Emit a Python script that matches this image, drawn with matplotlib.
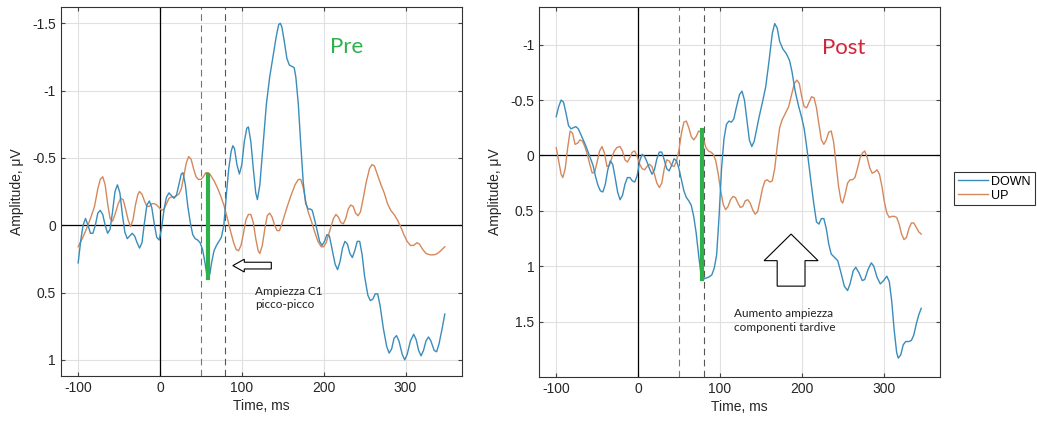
import numpy as np
import matplotlib
matplotlib.use("Agg")
import matplotlib.pyplot as plt
from matplotlib.patches import FancyArrow

plt.rcParams["font.family"] = ["Liberation Sans", "DejaVu Sans"]

# Pre: DOWN / UP waveforms (time ms, amplitude uV)
pre_down_t = [-100, -97, -94, -91, -88, -85, -82, -79, -76, -73, -70, -67, -64, -61, -58,
              -55, -52, -49, -46, -43, -40, -37, -34, -31, -28, -25, -22, -19, -16, -13,
              -10, -7, -4, -1, 2, 5, 8, 11, 14, 17, 20, 23, 26, 28, 31, 34, 37, 40, 43,
              46, 49, 52, 55, 57, 59, 61, 63, 66, 69, 72, 75, 78, 81, 84, 87, 89, 91, 94,
              97, 100, 103, 106, 108, 111, 114, 117, 119, 122, 126, 130, 134, 138, 142,
              145, 147, 149, 152, 155, 158, 161, 164, 166, 169, 172, 175, 178, 181, 184,
              186, 189, 192, 195, 198, 201, 204, 207, 210, 214, 217, 220, 223, 226, 229,
              232, 235, 238, 241, 244, 247, 250, 254, 257, 260, 263, 266, 269, 273, 277,
              280, 283, 286, 289, 292, 296, 299, 302, 306, 310, 313, 316, 319, 322, 325,
              328, 331, 335, 338, 341, 345, 348]
pre_down_v = [0.28, 0.12, 0.00, -0.05, 0.00, 0.06, 0.06, 0.00, -0.09, -0.11, -0.08, 0.00,
              0.06, 0.03, -0.10, -0.25, -0.30, -0.24, -0.08, 0.05, 0.10, 0.08, 0.06, 0.08,
              0.13, 0.17, 0.13, -0.02, -0.15, -0.18, -0.13, -0.01, 0.09, 0.11, 0.02, -0.12,
              -0.21, -0.24, -0.22, -0.20, -0.22, -0.30, -0.38, -0.39, -0.30, -0.14, -0.02,
              0.07, 0.10, 0.11, 0.13, 0.18, 0.28, 0.36, 0.39, 0.36, 0.28, 0.19, 0.15, 0.12,
              0.09, 0.00, -0.22, -0.42, -0.55, -0.59, -0.57, -0.45, -0.38, -0.45, -0.62,
              -0.72, -0.73, -0.62, -0.42, -0.24, -0.19, -0.30, -0.60, -0.90, -1.10, -1.25,
              -1.40, -1.49, -1.50, -1.47, -1.36, -1.24, -1.19, -1.18, -1.17, -1.10, -0.90,
              -0.60, -0.32, -0.16, -0.12, -0.12, -0.11, -0.04, 0.04, 0.12, 0.15, 0.12, 0.07,
              0.08, 0.17, 0.29, 0.33, 0.27, 0.17, 0.12, 0.14, 0.21, 0.24, 0.19, 0.12, 0.12,
              0.22, 0.38, 0.52, 0.56, 0.55, 0.51, 0.51, 0.60, 0.77, 0.90, 0.95, 0.92, 0.84,
              0.82, 0.86, 0.96, 1.00, 0.96, 0.86, 0.81, 0.85, 0.93, 0.97, 0.93, 0.86, 0.83,
              0.86, 0.93, 0.94, 0.88, 0.76, 0.66]

pre_up_t = [-100, -95, -90, -85, -80, -76, -73, -70, -67, -64, -61, -58, -55, -51, -48,
            -45, -42, -39, -36, -33, -30, -27, -25, -22, -19, -16, -13, -10, -7, -4, -1,
            2, 5, 8, 11, 14, 17, 20, 23, 26, 29, 32, 35, 38, 41, 44, 47, 50, 53, 56, 59,
            62, 66, 70, 74, 78, 82, 86, 90, 93, 96, 99, 102, 105, 108, 111, 114, 117,
            120, 122, 125, 128, 131, 134, 137, 140, 143, 146, 150, 155, 160, 165, 169,
            172, 175, 178, 181, 185, 189, 193, 197, 200, 203, 206, 209, 212, 215, 218,
            221, 224, 227, 230, 233, 236, 239, 242, 245, 248, 252, 256, 259, 262, 266,
            270, 274, 278, 282, 286, 290, 294, 298, 302, 306, 310, 314, 317, 321, 325,
            330, 335, 339, 343, 348]
pre_up_v = [0.16, 0.10, 0.03, -0.05, -0.14, -0.27, -0.34, -0.36, -0.30, -0.16, -0.05,
            -0.03, -0.08, -0.16, -0.20, -0.19, -0.12, -0.04, 0.01, -0.04, -0.15, -0.23,
            -0.25, -0.23, -0.18, -0.14, -0.14, -0.16, -0.16, -0.15, -0.13, -0.11, -0.12,
            -0.16, -0.20, -0.21, -0.21, -0.22, -0.23, -0.27, -0.36, -0.46, -0.51, -0.49,
            -0.42, -0.36, -0.34, -0.34, -0.36, -0.39, -0.39, -0.37, -0.33, -0.28, -0.22,
            -0.15, -0.06, 0.04, 0.13, 0.18, 0.19, 0.15, 0.06, -0.04, -0.08, -0.08, -0.02,
            0.10, 0.19, 0.21, 0.15, 0.03, -0.07, -0.09, -0.06, 0.00, 0.04, 0.04, -0.03,
            -0.13, -0.22, -0.30, -0.34, -0.34, -0.28, -0.18, -0.10, -0.03, 0.05, 0.12,
            0.16, 0.16, 0.13, 0.07, 0.01, -0.05, -0.08, -0.06, -0.02, -0.01, -0.05, -0.12,
            -0.15, -0.14, -0.09, -0.07, -0.10, -0.19, -0.32, -0.42, -0.45, -0.44, -0.37,
            -0.30, -0.24, -0.16, -0.11, -0.08, -0.04, 0.01, 0.07, 0.12, 0.15, 0.15, 0.13,
            0.14, 0.18, 0.21, 0.22, 0.22, 0.21, 0.19, 0.16]

# Post: DOWN / UP waveforms
post_down_t = [-100, -97, -94, -91, -88, -85, -82, -79, -76, -73, -70, -67, -64, -61,
               -58, -55, -52, -49, -46, -43, -40, -37, -34, -31, -28, -25, -22, -19,
               -16, -13, -10, -7, -4, -1, 2, 5, 8, 11, 14, 17, 20, 23, 26, 29, 32, 35,
               38, 41, 44, 47, 50, 53, 56, 59, 62, 65, 68, 71, 74, 77, 79, 82, 86, 90,
               93, 96, 99, 102, 105, 108, 111, 114, 117, 120, 124, 127, 130, 133, 136,
               139, 142, 145, 148, 152, 156, 160, 164, 167, 170, 173, 177, 181, 185,
               188, 192, 196, 200, 203, 206, 209, 212, 215, 218, 221, 224, 227, 230,
               233, 236, 240, 244, 248, 252, 256, 259, 263, 266, 270, 274, 277, 281,
               285, 288, 292, 296, 300, 304, 307, 310, 313, 316, 318, 321, 324, 327,
               331, 334, 337, 340, 343, 346]
post_down_v = [-0.35, -0.44, -0.50, -0.48, -0.38, -0.27, -0.24, -0.25, -0.26, -0.24,
               -0.19, -0.14, -0.09, -0.03, 0.03, 0.09, 0.19, 0.27, 0.32, 0.33, 0.26, 0.13,
               0.05, 0.08, 0.20, 0.33, 0.40, 0.36, 0.26, 0.20, 0.20, 0.23, 0.24, 0.18,
               0.05, -0.01, 0.01, 0.06, 0.12, 0.17, 0.13, 0.03, -0.03, -0.03, 0.04, 0.12,
               0.14, 0.09, 0.03, 0.05, 0.12, 0.22, 0.32, 0.38, 0.41, 0.45, 0.55, 0.70,
               0.90, 1.08, 1.12, 1.11, 1.10, 1.08, 1.02, 0.90, 0.55, 0.12, -0.15, -0.28,
               -0.31, -0.30, -0.33, -0.43, -0.55, -0.58, -0.50, -0.32, -0.14, -0.08, -0.13,
               -0.24, -0.35, -0.48, -0.62, -0.85, -1.10, -1.19, -1.15, -1.03, -0.96, -0.92,
               -0.86, -0.76, -0.58, -0.45, -0.34, -0.24, -0.08, 0.10, 0.28, 0.45, 0.60,
               0.62, 0.57, 0.57, 0.66, 0.80, 0.89, 0.92, 0.95, 1.06, 1.18, 1.22, 1.16,
               1.04, 1.01, 1.06, 1.13, 1.12, 1.03, 0.97, 1.00, 1.10, 1.16, 1.13, 1.09,
               1.14, 1.32, 1.58, 1.78, 1.83, 1.80, 1.71, 1.68, 1.68, 1.67, 1.62, 1.52,
               1.44, 1.38]

post_up_t = [-100, -97, -94, -92, -89, -86, -83, -80, -77, -74, -71, -68, -65, -62, -59,
             -56, -53, -50, -47, -44, -41, -38, -35, -32, -29, -26, -22, -19, -16, -13,
             -10, -7, -4, -1, 2, 5, 8, 11, 14, 17, 20, 23, 26, 29, 32, 35, 38, 41, 44,
             47, 50, 53, 56, 59, 62, 65, 68, 71, 74, 77, 80, 83, 86, 89, 92, 95, 98, 101,
             104, 107, 110, 113, 116, 119, 122, 125, 128, 131, 134, 137, 140, 143, 146,
             149, 152, 155, 158, 161, 164, 167, 170, 173, 176, 180, 184, 188, 191, 194,
             197, 200, 203, 206, 209, 212, 215, 218, 221, 224, 227, 230, 233, 236, 239,
             242, 245, 248, 250, 253, 256, 259, 262, 265, 268, 271, 274, 277, 280, 283,
             286, 289, 292, 295, 298, 301, 304, 307, 310, 313, 316, 319, 322, 325, 328,
             331, 334, 337, 340, 343, 346]
post_up_v = [-0.07, 0.05, 0.17, 0.20, 0.12, -0.07, -0.22, -0.20, -0.10, -0.11, -0.14,
             -0.13, -0.08, -0.01, 0.08, 0.16, 0.15, 0.06, -0.04, -0.08, -0.02, 0.10, 0.09,
             0.02, -0.04, -0.07, -0.08, -0.04, 0.04, 0.06, 0.02, -0.03, -0.04, 0.01, 0.08,
             0.12, 0.13, 0.10, 0.08, 0.10, 0.17, 0.25, 0.29, 0.25, 0.12, 0.04, 0.05, 0.09,
             0.10, 0.05, -0.05, -0.20, -0.30, -0.31, -0.25, -0.17, -0.14, -0.17, -0.22,
             -0.21, -0.14, -0.07, -0.04, -0.03, -0.01, 0.05, 0.17, 0.32, 0.44, 0.49, 0.46,
             0.40, 0.37, 0.38, 0.43, 0.47, 0.46, 0.41, 0.40, 0.43, 0.49, 0.53, 0.51, 0.41,
             0.30, 0.23, 0.22, 0.24, 0.23, 0.12, -0.08, -0.25, -0.32, -0.38, -0.44, -0.56,
             -0.65, -0.68, -0.65, -0.53, -0.44, -0.43, -0.48, -0.53, -0.52, -0.43, -0.28,
             -0.14, -0.10, -0.14, -0.21, -0.22, -0.12, 0.08, 0.28, 0.41, 0.43, 0.35, 0.25,
             0.22, 0.22, 0.20, 0.12, 0.03, -0.02, -0.04, 0.02, 0.11, 0.16, 0.15, 0.13,
             0.17, 0.28, 0.42, 0.52, 0.56, 0.55, 0.55, 0.56, 0.62, 0.71, 0.76, 0.74, 0.66,
             0.61, 0.61, 0.65, 0.69, 0.71]

# C1 peak-to-peak markers (time, top, bottom)
pre_c1 = (59, -0.37, 0.39)
post_c1 = (78, -0.23, 1.12)

x_ticks = [-100, 0, 100, 200, 300]
pre_yticks = [-1.5, -1, -0.5, 0, 0.5, 1]
pre_ylabels = ["-1.5", "-1", "-0.5", "0", "0.5", "1"]
post_yticks = [-1, -0.5, 0, 0.5, 1, 1.5]
post_ylabels = ["-1", "-0.5", "0", "0.5", "1", "1.5"]

blue = "#3a8cba"
orange = "#d5885c"
green = "#2eb14b"

fig = plt.figure(figsize=(10.37, 4.25), dpi=100)
ax1 = fig.add_axes([0.0588, 0.1153, 0.3867, 0.868])
ax2 = fig.add_axes([0.5198, 0.1130, 0.3867, 0.8706])


def setup(ax, ylim, yticks, ylabels):
    ax.set_xlim(-121, 369)
    ax.set_ylim(*ylim)
    ax.set_xticks(x_ticks)
    ax.set_xticklabels([str(t) for t in x_ticks])
    ax.set_yticks(yticks)
    ax.set_yticklabels(ylabels)
    ax.grid(True, color="#e0e0e0", lw=0.8)
    ax.set_axisbelow(True)
    ax.tick_params(direction="in", length=3, top=True, right=True,
                   labelsize=10, color="#444444", labelcolor="#262626")
    for s in ax.spines.values():
        s.set_color("#333333")
        s.set_linewidth(0.8)
    ax.axhline(0, color="black", lw=0.9, zorder=1)
    ax.axvline(0, color="black", lw=0.9, zorder=1)
    ax.axvline(50, color="#777777", lw=0.8, ls=(0, (6, 4)), zorder=1)
    ax.axvline(80, color="#555555", lw=0.8, ls=(0, (6, 4)), zorder=1)
    ax.set_xlabel("Time, ms", fontsize=10, color="#262626", labelpad=3)
    ax.set_ylabel("Amplitude, \u03bcV", fontsize=10, color="#262626", labelpad=6)


setup(ax1, (1.12, -1.62), pre_yticks, pre_ylabels)
setup(ax2, (2.0, -1.34), post_yticks, post_ylabels)

l1, = ax1.plot(pre_down_t, pre_down_v, color=blue, lw=1.0, zorder=3)
l2, = ax1.plot(pre_up_t, pre_up_v, color=orange, lw=1.0, zorder=2)
ax2.plot(post_down_t, post_down_v, color=blue, lw=1.0, zorder=3)
ax2.plot(post_up_t, post_up_v, color=orange, lw=1.0, zorder=2)

ax1.plot([pre_c1[0]] * 2, pre_c1[1:], color=green, lw=3, zorder=4)
ax2.plot([post_c1[0]] * 2, post_c1[1:], color=green, lw=3, zorder=4)

ax1.text(228, -1.32, "Pre", color=green, fontsize=16, family="Lato",
         ha="center", va="center")
ax2.text(251, -0.97, "Post", color="#d0263a", fontsize=16, family="Lato",
         ha="center", va="center")

ax1.add_patch(FancyArrow(136, 0.30, -47, 0, width=0.05, head_width=0.095,
                         head_length=14, length_includes_head=True,
                         fc="white", ec="black", lw=0.8, zorder=5))
ax1.text(116, 0.45, "Ampiezza C1\npicco-picco", fontsize=8.5, family="Lato",
         ha="left", va="top", linespacing=1.3, color="#222222")

ax2.add_patch(FancyArrow(187, 1.18, 0, -0.47, width=34, head_width=66,
                         head_length=0.24, length_includes_head=True,
                         fc="white", ec="black", lw=0.8, zorder=5))
ax2.text(117, 1.38, "Aumento ampiezza\ncomponenti tardive", fontsize=8.5,
         family="Lato", ha="left", va="top", linespacing=1.3, color="#222222")

leg = fig.legend([l1, l2], ["DOWN", "UP"], loc="upper left",
                 bbox_to_anchor=(954 / 1037, 1 - 172 / 425), fontsize=9,
                 frameon=True, fancybox=False, borderpad=0.3, handlelength=2.4,
                 handletextpad=0.3, labelspacing=0.15, borderaxespad=0)
leg.get_frame().set_edgecolor("black")
leg.get_frame().set_linewidth(0.8)

fig.savefig("out.png", dpi=100)
